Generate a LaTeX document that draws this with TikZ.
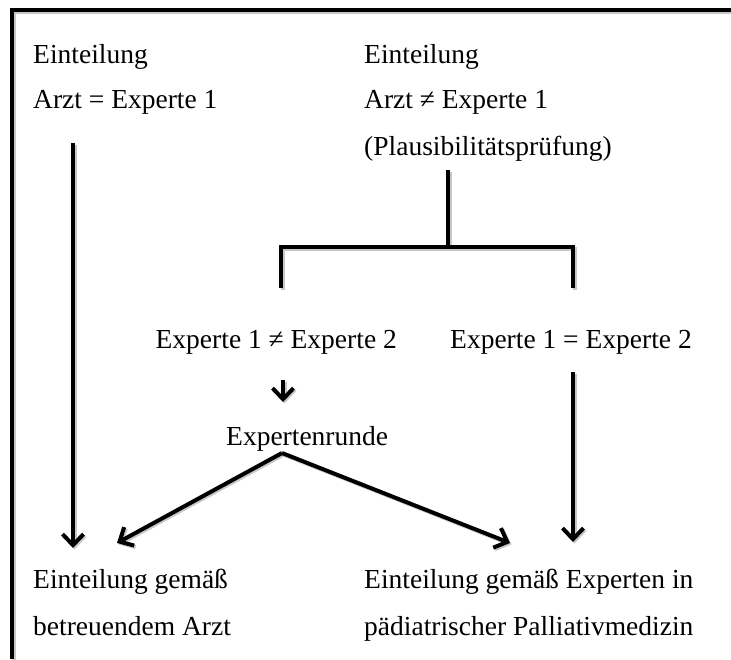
\documentclass[tikz,border=0pt]{standalone}
\usepackage{fontspec}
\setmainfont{Liberation Serif}
\usetikzlibrary{arrows.meta}
\tikzset{
  lbl/.style={anchor=base west, inner sep=0pt, font=\fontsize{27.5}{33}\selectfont},
  lble/.style={lbl, anchor=base east},
  conn/.style={line width=4pt, line join=miter,
     preaction={draw=black!22, line width=4pt, transform canvas={shift={(1.5pt,-1.5pt)}}}},
  arr/.style={conn, -{Straight Barb[length=11pt,width=21pt,line width=4pt]}},
}
\begin{document}
\begin{tikzpicture}[x=1pt,y=-1pt]
\useasboundingbox (0,0) rectangle (731,659);
\fill[white] (0,0) rectangle (731,659);
% frame
\coordinate (fr1) at (731,10);
\coordinate (fr2) at (12,10);
\coordinate (fr3) at (12,659);
\draw[conn] (fr1) -- (fr2) -- (fr3);
% texts
\node[lbl] (L1) at (33,63) {Einteilung};
\node[lbl] (L2) at (33,108) {Arzt = Experte 1};
\node[lbl] (R1) at (364,63) {Einteilung};
\node[lbl] (R2) at (364,108) {Arzt ≠ Experte 1};
\node[lbl] (R3) at (364,155) {(Plausibilitätsprüfung)};
\node[lble] (E1) at (397,348) {Experte 1 ≠ Experte 2};
\node[lbl] (E2) at (450,348) {Experte 1 = Experte 2};
\node[lbl] (ER) at (226,445) {Expertenrunde};
\node[lbl] (B1) at (33,588) {Einteilung gemäß};
\node[lbl] (B2) at (33,635) {betreuendem Arzt};
\node[lbl] (B3) at (364,588) {Einteilung gemäß Experten in};
\node[lbl] (B4) at (364,635) {pädiatrischer Palliativmedizin};
% connector coordinates
\coordinate (a1s) at (73,143);
\coordinate (a1e) at (73,548);
\coordinate (v1s) at (448,170);
\coordinate (v1e) at (448,247);
\coordinate (bl) at (281,247);
\coordinate (br) at (573,247);
\coordinate (bld) at (281,288);
\coordinate (brd) at (573,288);
\coordinate (a2s) at (283,380);
\coordinate (a2e) at (283,402);
\coordinate (apex) at (282,453);
\coordinate (a3e) at (117,543);
\coordinate (a4e) at (510,543);
\coordinate (a5s) at (573,372);
\coordinate (a5e) at (573,542);
% connectors
\draw[arr] (a1s) -- (a1e);
\draw[conn] (v1s) -- (v1e);
\draw[conn] (bld) -- (bl) -- (br) -- (brd);
\draw[arr] (a2s) -- (a2e);
\draw[arr] (apex) -- (a3e);
\draw[arr] (apex) -- (a4e);
\draw[arr] (a5s) -- (a5e);
\end{tikzpicture}
\end{document}
